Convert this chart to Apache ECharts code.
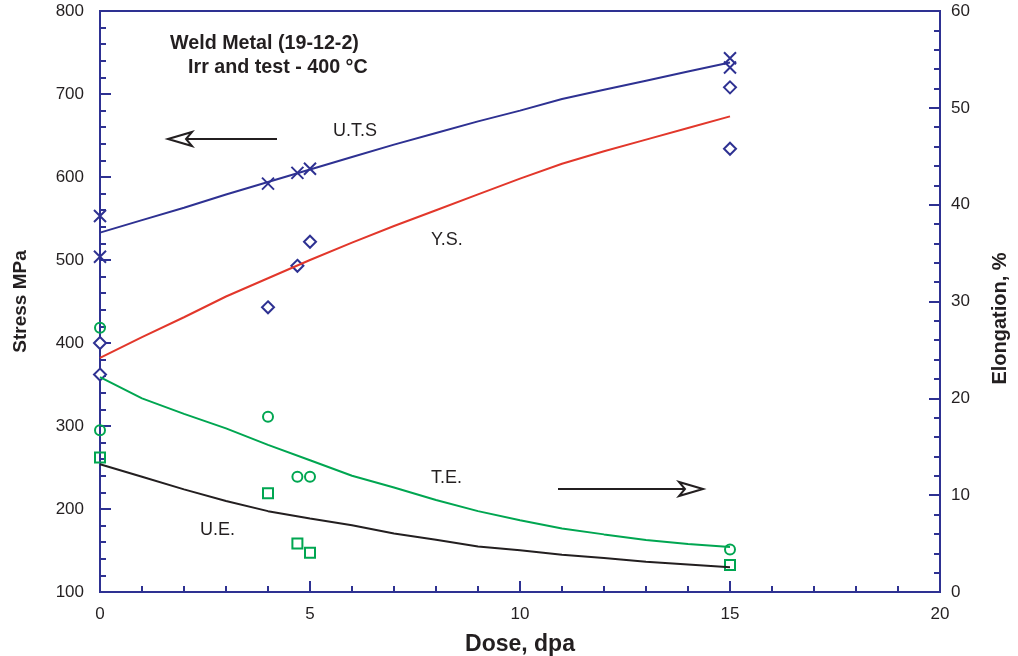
<!DOCTYPE html>
<html>
<head>
<meta charset="utf-8">
<script src="https://cdn.jsdelivr.net/npm/echarts@6/dist/echarts.min.js"></script>
<style>
  html, body { margin: 0; padding: 0; background: #fff; }
  #chart { width: 1018px; height: 656px; }
</style>
</head>
<body>
<div id="chart"></div>
<script>
// fitted curves, read at each dose step
const lineDose = [0, 1, 2, 3, 4, 5, 6, 7, 8, 9, 10, 11, 12, 13, 14, 15];
const utsLine = [533, 548, 563, 579, 594, 609, 624, 639, 653, 667, 680, 694, 705, 716, 727, 738];
const ysLine = [382, 407, 431, 456, 478, 500, 521, 541, 560, 579, 598, 616, 631, 645, 659, 673];
const teLine = [22.2, 20.0, 18.4, 16.9, 15.2, 13.6, 12.0, 10.8, 9.5, 8.35, 7.4, 6.55, 5.95, 5.37, 4.95, 4.65];
const ueLine = [13.2, 11.9, 10.6, 9.4, 8.35, 7.6, 6.9, 6.05, 5.4, 4.7, 4.3, 3.85, 3.5, 3.13, 2.85, 2.55];

// measured points
const utsDose = [0, 0, 4.0, 4.7, 5.0, 15, 15];
const utsPts = [553, 504, 592, 605, 610, 743, 732];
const ysDose = [0, 0, 4.0, 4.7, 5.0, 15, 15];
const ysPts = [400, 362, 443, 493, 522, 708, 634];
const teDose = [0, 0, 4.0, 4.7, 5.0, 15];
const tePts = [27.3, 16.7, 18.1, 11.9, 11.9, 4.4];
const ueDose = [0, 4.0, 4.7, 5.0, 15];
const uePts = [13.9, 10.2, 5.0, 4.06, 2.8];

const axisBlue = '#2e3192';
const font = 'Liberation Sans, Arial, sans-serif';

function pairs(xs, ys) { return xs.map((x, i) => [x, ys[i]]); }

let dom = document.getElementById('chart');
let myChart = echarts.init(dom);

let tickCommon = {
    axisLine: { show: true, lineStyle: { color: axisBlue, width: 2 } },
    axisTick: { show: true, inside: true, length: 11, lineStyle: { color: axisBlue, width: 2 } },
    minorTick: { show: true, splitNumber: 5, length: 6, lineStyle: { color: axisBlue, width: 2 } },
    splitLine: { show: false },
    axisLabel: { color: '#231f20', fontFamily: font, fontSize: 17 }
};

let option = {
    backgroundColor: '#fff',
    animation: false,
    grid: { left: 100, right: 78, top: 11, bottom: 64, show: true, borderColor: axisBlue, borderWidth: 2,
            outerBoundsMode: 'none', containLabel: false },
    xAxis: Object.assign({
        type: 'value', min: 0, max: 20, interval: 5,
        name: 'Dose, dpa', nameLocation: 'middle', nameGap: 41,
        nameTextStyle: { fontFamily: font, fontWeight: 'bold', fontSize: 23, color: '#231f20' }
    }, tickCommon, { axisLabel: { color: '#231f20', fontFamily: font, fontSize: 17, margin: 14 } }),
    yAxis: [
        Object.assign({
            type: 'value', min: 100, max: 800, interval: 100, position: 'left',
            name: 'Stress MPa', nameLocation: 'middle', nameGap: 70, nameRotate: 90,
            nameTextStyle: { fontFamily: font, fontWeight: 'bold', fontSize: 19, color: '#231f20' }
        }, tickCommon, { axisLabel: { color: '#231f20', fontFamily: font, fontSize: 17, margin: 16 } }),
        Object.assign({
            type: 'value', min: 0, max: 60, interval: 10, position: 'right',
            name: 'Elongation, %', nameLocation: 'middle', nameGap: 50, nameRotate: 90,
            nameTextStyle: { fontFamily: font, fontWeight: 'bold', fontSize: 20, color: '#231f20', padding: [0, 34, 0, 0] }
        }, tickCommon, { axisLabel: { color: '#231f20', fontFamily: font, fontSize: 17, margin: 11 } })
    ],
    series: [
        { name: 'U.T.S', type: 'line', yAxisIndex: 0, showSymbol: false, data: pairs(lineDose, utsLine),
          lineStyle: { color: '#2e3192', width: 2 } },
        { name: 'Y.S.', type: 'line', yAxisIndex: 0, showSymbol: false, data: pairs(lineDose, ysLine),
          lineStyle: { color: '#e2372b', width: 2 } },
        { name: 'T.E.', type: 'line', yAxisIndex: 1, showSymbol: false, data: pairs(lineDose, teLine),
          lineStyle: { color: '#00a651', width: 2 } },
        { name: 'U.E.', type: 'line', yAxisIndex: 1, showSymbol: false, data: pairs(lineDose, ueLine),
          lineStyle: { color: '#231f20', width: 2 } },
        { name: 'UTS data', type: 'scatter', yAxisIndex: 0, data: pairs(utsDose, utsPts), clip: false,
          symbol: 'path://M0,0L10,10M10,0L0,10', symbolSize: 12,
          itemStyle: { color: 'rgba(0,0,0,0)', borderColor: '#2e3192', borderWidth: 2, opacity: 1 } },
        { name: 'YS data', type: 'scatter', yAxisIndex: 0, data: pairs(ysDose, ysPts), clip: false,
          symbol: 'diamond', symbolSize: [12, 12],
          itemStyle: { color: '#fff', borderColor: '#2e3192', borderWidth: 2, opacity: 1 } },
        { name: 'TE data', type: 'scatter', yAxisIndex: 1, data: pairs(teDose, tePts), clip: false,
          symbol: 'circle', symbolSize: 10,
          itemStyle: { color: 'rgba(255,255,255,0)', borderColor: '#00a651', borderWidth: 2, opacity: 1 } },
        { name: 'UE data', type: 'scatter', yAxisIndex: 1, data: pairs(ueDose, uePts), clip: false,
          symbol: 'rect', symbolSize: 10,
          itemStyle: { color: 'rgba(255,255,255,0)', borderColor: '#00a651', borderWidth: 2, opacity: 1 } }
    ],
    graphic: [
        { type: 'text', left: 170, top: 34, style: { text: 'Weld Metal (19-12-2)', font: 'bold 19.7px ' + font, fill: '#231f20' } },
        { type: 'text', left: 188, top: 58, style: { text: 'Irr and test - 400 °C', font: 'bold 19.7px ' + font, fill: '#231f20' } },
        { type: 'text', left: 333, top: 122, style: { text: 'U.T.S', font: '18px ' + font, fill: '#231f20' } },
        { type: 'text', left: 431, top: 231, style: { text: 'Y.S.', font: '18px ' + font, fill: '#231f20' } },
        { type: 'text', left: 431, top: 469, style: { text: 'T.E.', font: '18px ' + font, fill: '#231f20' } },
        { type: 'text', left: 200, top: 521, style: { text: 'U.E.', font: '18px ' + font, fill: '#231f20' } },
        { type: 'line', shape: { x1: 277, y1: 139, x2: 186, y2: 139 }, style: { stroke: '#231f20', lineWidth: 2 } },
        { type: 'polygon', shape: { points: [[168, 139], [192, 132], [186, 139], [192, 146]] },
          style: { fill: '#fff', stroke: '#231f20', lineWidth: 2 } },
        { type: 'line', shape: { x1: 558, y1: 489, x2: 684, y2: 489 }, style: { stroke: '#231f20', lineWidth: 2 } },
        { type: 'polygon', shape: { points: [[703, 489], [679, 482], [685, 489], [679, 496]] },
          style: { fill: '#fff', stroke: '#231f20', lineWidth: 2 } }
    ]
};

if (option && typeof option === 'object') {
    myChart.setOption(option, true);
}
</script>
</body>
</html>
